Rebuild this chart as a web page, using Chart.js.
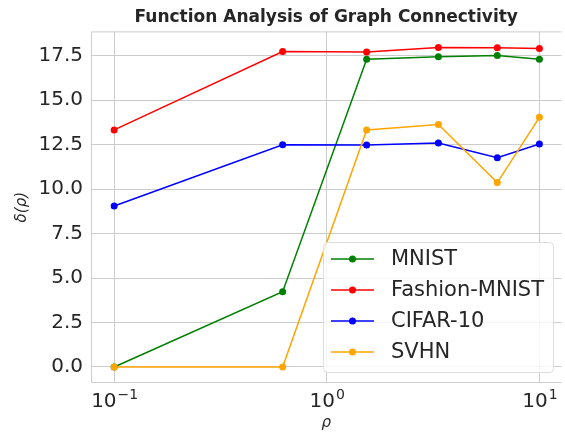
<!DOCTYPE html>
<html>
<head>
<meta charset="utf-8">
<script src="https://cdn.jsdelivr.net/npm/chart.js@4.4.0/dist/chart.umd.min.js"></script>
<style>
  body { margin: 0; background: #fff; }
  #wrap { width: 565px; height: 434px; }
</style>
</head>
<body>
<div id="wrap"><canvas id="chart" width="565" height="434"></canvas></div>
<script>
// Data
const rho = [0.1, 0.62, 1.54, 3.35, 6.34, 10];
const mnist = [0, 4.23, 17.31, 17.44, 17.52, 17.31];
const fashionMnist = [13.33, 17.74, 17.71, 17.97, 17.95, 17.91];
const cifar10 = [9.05, 12.5, 12.48, 12.6, 11.77, 12.54];
const svhn = [0, 0, 13.33, 13.64, 10.37, 14.04];

const seriesNames = ["MNIST", "Fashion-MNIST", "CIFAR-10", "SVHN"];
const seriesColors = ["#008000", "#ff0000", "#0000ff", "#ffa500"];

const xTicks = [0.1, 1, 10];
const xTickExponents = ["\u22121", "0", "1"];
const yTicks = [0, 2.5, 5, 7.5, 10, 12.5, 15, 17.5];

const textColor = "#262626";
const gridColor = "#cccccc";

function toPoints(values) {
  return values.map((v, i) => ({ x: rho[i], y: v }));
}

const allSeries = [mnist, fashionMnist, cifar10, svhn];

// Frame, x tick labels (10 with raised exponent) and legend inside the plot
const framePlugin = {
  id: "frame",
  beforeDatasetsDraw(chart) {
    const { ctx, chartArea: a } = chart;
    ctx.save();
    ctx.strokeStyle = gridColor;
    ctx.lineWidth = 1;
    ctx.beginPath();
    ctx.moveTo(a.right, a.top + 0.5);
    ctx.lineTo(a.left + 0.5, a.top + 0.5);
    ctx.lineTo(a.left + 0.5, a.bottom - 0.5);
    ctx.lineTo(a.right, a.bottom - 0.5);
    ctx.stroke();
    ctx.restore();
  },
  afterDraw(chart) {
    const ctx = chart.ctx;
    const xs = chart.scales.x;
    ctx.save();
    ctx.fillStyle = textColor;
    ctx.textBaseline = "alphabetic";
    xTicks.forEach((v, i) => {
      const px = xs.getPixelForValue(v);
      ctx.font = "20px 'DejaVu Sans'";
      const baseW = ctx.measureText("10").width;
      ctx.font = "14px 'DejaVu Sans'";
      const expW = ctx.measureText(xTickExponents[i]).width;
      const start = px - (baseW + expW) / 2;
      ctx.font = "20px 'DejaVu Sans'";
      ctx.fillText("10", start, 407);
      ctx.font = "14px 'DejaVu Sans'";
      ctx.fillText(xTickExponents[i], start + baseW + 1, 399);
    });

    const left = 323, top = 242, width = 230, height = 130;
    ctx.beginPath();
    ctx.roundRect(left + 0.5, top + 0.5, width, height, 4);
    ctx.fillStyle = "rgba(255,255,255,0.8)";
    ctx.fill();
    ctx.strokeStyle = "#dddddd";
    ctx.lineWidth = 1;
    ctx.stroke();
    ctx.font = "21px 'DejaVu Sans'";
    ctx.textBaseline = "middle";
    chart.data.datasets.forEach((ds, i) => {
      const y = 259 + i * 31;
      ctx.strokeStyle = ds.borderColor;
      ctx.lineWidth = 1.5;
      ctx.beginPath();
      ctx.moveTo(331, y);
      ctx.lineTo(374, y);
      ctx.stroke();
      ctx.fillStyle = ds.borderColor;
      ctx.beginPath();
      ctx.arc(352.5, y, 3.5, 0, Math.PI * 2);
      ctx.fill();
      ctx.fillStyle = textColor;
      ctx.fillText(ds.label, 391, y + 1);
    });
    ctx.restore();
  }
};

const datasets = seriesNames.map((name, i) => ({
  label: name,
  data: toPoints(allSeries[i]),
  borderColor: seriesColors[i],
  backgroundColor: seriesColors[i],
  borderWidth: 1.5,
  pointRadius: 3.5,
  pointBorderWidth: 0,
  pointHoverRadius: 3.5,
  tension: 0,
  order: seriesNames.length - i
}));

new Chart(document.getElementById("chart"), {
  type: "line",
  data: { datasets },
  options: {
    responsive: false,
    animation: false,
    layout: { padding: 0 },
    plugins: {
      legend: { display: false },
      tooltip: { enabled: false },
      title: {
        display: true,
        text: "Function Analysis of Graph Connectivity",
        color: textColor,
        font: { family: "'DejaVu Sans'", size: 17, weight: "bold" },
        padding: { top: 7, bottom: 4 },
        fullSize: false
      }
    },
    scales: {
      x: {
        type: "logarithmic",
        min: Math.pow(10, -1.109),
        max: Math.pow(10, 1.104),
        afterBuildTicks(scale) {
          scale.ticks = xTicks.map(v => ({ value: v }));
        },
        afterFit(scale) {
          scale.height = 51;
          scale.paddingLeft = 0;
          scale.paddingRight = 0;
        },
        ticks: {
          autoSkip: false,
          maxRotation: 0,
          color: textColor,
          font: { family: "'DejaVu Sans'", size: 20 },
          callback() { return ""; }
        },
        grid: { color: gridColor, drawTicks: false },
        border: { display: false },
        title: {
          display: true,
          text: "\u03C1",
          color: textColor,
          font: { family: "'DejaVu Sans'", size: 15, style: "italic" },
          padding: { top: 0, bottom: 2 }
        }
      },
      y: {
        type: "linear",
        min: -0.9,
        max: 18.87,
        afterBuildTicks(scale) {
          scale.ticks = yTicks.map(v => ({ value: v }));
        },
        afterFit(scale) {
          scale.width = 91;
          scale.paddingTop = 0;
          scale.paddingBottom = 0;
        },
        ticks: {
          color: textColor,
          padding: 8,
          font: { family: "'DejaVu Sans'", size: 20 },
          callback(value) { return value.toFixed(1); }
        },
        grid: { color: gridColor, drawTicks: false },
        border: { display: false },
        title: {
          display: true,
          text: "\u03B4(\u03C1)",
          color: textColor,
          font: { family: "'DejaVu Sans'", size: 15, style: "italic" },
          padding: { top: 13, bottom: 0 }
        }
      }
    }
  },
  plugins: [framePlugin]
});
</script>
</body>
</html>
